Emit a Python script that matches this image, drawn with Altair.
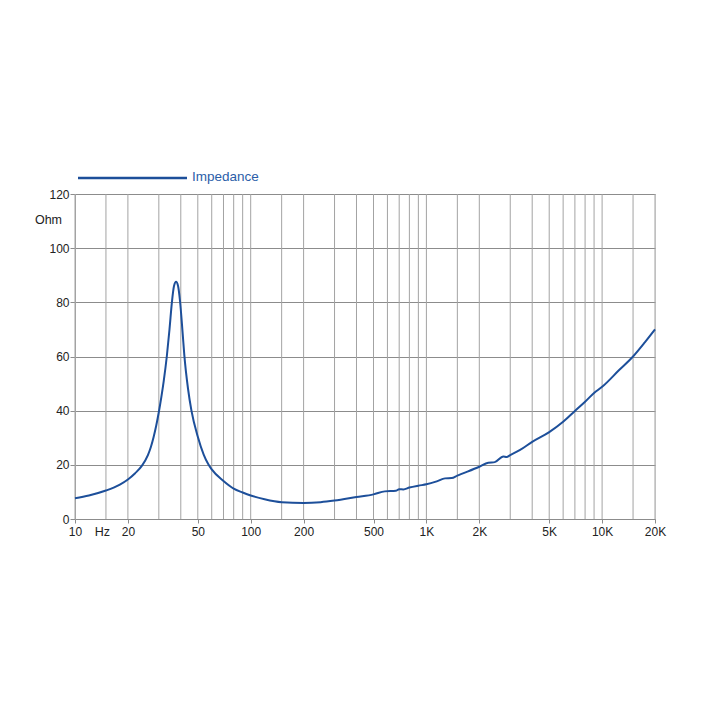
import altair as alt
import pandas as pd

# Impedance curve (Hz, Ohm)
freq = [10, 12, 15, 18, 20, 22, 24, 26, 27, 28, 29, 30, 31, 32, 33.3, 34.5, 35.6,
        36.6, 37.6, 38.6, 39.6, 41, 41.9, 44, 46, 50, 54, 57.4, 60, 70, 80, 90,
        100, 120, 150, 200, 250, 300, 400, 500, 580, 670, 700, 740, 800, 900,
        1000, 1145, 1276, 1393, 1500, 2000, 2250, 2450, 2740, 2860, 3000, 3414,
        4000, 5000, 6000, 7000, 8000, 9000, 10000, 12500, 15000, 17500, 20000]
ohm = [7.7, 8.7, 10.5, 12.7, 14.6, 16.9, 19.6, 23.6, 26.5, 30.2, 34.5, 39.5, 45.0,
       51.0, 60.0, 70.0, 80.0, 86.0, 87.6, 86.0, 80.5, 68.5, 60.5, 48.0, 40.0, 30.4,
       23.8, 20.2, 18.3, 14.0, 11.2, 9.8, 8.7, 7.3, 6.2, 5.9, 6.2, 6.8, 8.1, 9.1,
       10.2, 10.4, 11.0, 10.9, 11.6, 12.3, 12.8, 13.9, 15.0, 15.1, 16.0, 19.3,
       20.8, 21.0, 23.1, 22.9, 23.6, 25.5, 28.5, 32.1, 35.9, 39.9, 43.3, 46.5,
       48.8, 55.0, 60.0, 65.2, 70.0]

grid_freqs = [10, 15, 20, 30, 40, 50, 60, 70, 80, 90,
              100, 150, 200, 300, 400, 500, 600, 700, 800, 900,
              1000, 1500, 2000, 3000, 4000, 5000, 6000, 7000, 8000, 9000,
              10000, 15000, 20000]
label_freqs = [10, 20, 50, 100, 200, 500, 1000, 2000, 5000, 10000, 20000]
label_text = ["10", "20", "50", "100", "200", "500", "1K", "2K", "5K", "10K", "20K"]
y_ticks = [0, 20, 40, 60, 80, 100, 120]
series_name = "Impedance"

LINE = "#1d4f9a"
TEXT = "#222222"
FONT = "Liberation Sans"

df = pd.DataFrame({"f": freq, "z": ohm})
grid_df = pd.DataFrame({"f": grid_freqs})

label_expr = ("{" + ",".join(f"'{v}':'{t}'" for v, t in zip(label_freqs, label_text))
              + "}[''+datum.value] || ''")

xs = alt.Scale(type="log", domain=[10, 20000], nice=False)
ys = alt.Scale(domain=[0, 120], nice=False)

x_axis = alt.Axis(
    values=label_freqs, labelExpr=label_expr, grid=False, title=None,
    tickSize=4, tickColor="#8c8c8c", domainColor="#8c8c8c",
    labelFont=FONT, labelFontSize=12, labelColor=TEXT, labelPadding=3,
    labelOverlap=False, labelFlush=False)

y_axis = alt.Axis(
    values=y_ticks, grid=True, gridColor="#8c8c8c", title=None,
    tickSize=5, tickColor="#8c8c8c", domainColor="#a3a3a3",
    labelFont=FONT, labelFontSize=12, labelColor=TEXT, labelPadding=1)

grid = alt.Chart(grid_df).mark_rule(color="#a3a3a3", strokeWidth=1).encode(
    x=alt.X("f:Q", scale=xs, axis=x_axis)
)

line = alt.Chart(df).mark_line(color=LINE, strokeWidth=2, interpolate="monotone").encode(
    x=alt.X("f:Q", scale=xs, axis=x_axis),
    y=alt.Y("z:Q", scale=ys, axis=y_axis),
)

ohm_label = alt.Chart(pd.DataFrame({"t": ["Ohm"]})).mark_text(
    align="right", baseline="middle", font=FONT, fontSize=12.5, color=TEXT
).encode(x=alt.value(-13), y=alt.datum(110.5, scale=ys), text="t:N")

hz_label = alt.Chart(pd.DataFrame({"t": ["Hz"]})).mark_text(
    align="center", baseline="top", font=FONT, fontSize=12.5, color=TEXT
).encode(x=alt.datum(14.3), y=alt.value(332), text="t:N")

legend_line = alt.Chart(pd.DataFrame({"t": [series_name]})).mark_rule(
    color=LINE, strokeWidth=2.5
).encode(x=alt.value(3), x2=alt.value(112), y=alt.value(-16))

legend_text = alt.Chart(pd.DataFrame({"t": [series_name]})).mark_text(
    align="left", baseline="middle", font=FONT, fontSize=13.5, color="#2b5ea8"
).encode(x=alt.value(117), y=alt.value(-17), text="t:N")

chart = alt.layer(grid, line, ohm_label, hz_label, legend_line, legend_text).properties(
    width=580, height=325,
    autosize=alt.AutoSizeParams(type="none"),
    padding={"left": 67, "top": 186, "right": 47, "bottom": 183},
).configure_view(stroke=None).configure(background="white")

chart.save("out.html", embed_options={"renderer": "svg", "actions": False})
